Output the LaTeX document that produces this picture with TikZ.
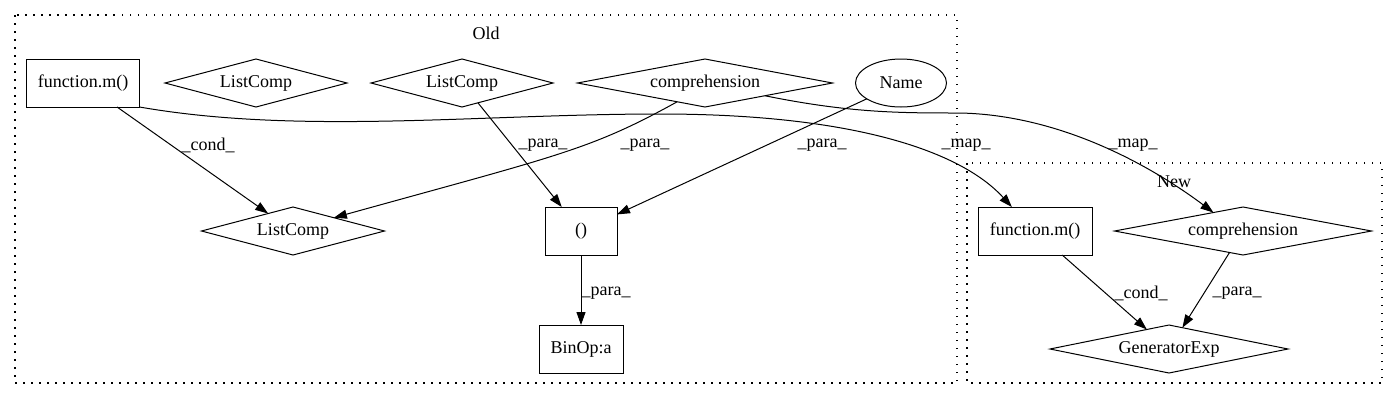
\documentclass[tikz,border=0pt]{standalone}
\usepackage{fontspec}
\setmainfont{Liberation Serif}
\usetikzlibrary{shapes.geometric}
\usetikzlibrary{arrows.meta}
\tikzset{box/.style={draw, rectangle, minimum height=48pt, inner sep=0pt, outer sep=0pt, line width=1pt},
 dia/.style={draw, diamond, aspect=5, minimum height=48pt, inner sep=0pt, outer sep=0pt, line width=1pt},
 oval/.style={draw, ellipse, minimum width=91pt, minimum height=48pt, inner sep=0pt, outer sep=0pt, line width=1pt},
 elabel/.style={inner sep=0pt},
 cluster/.style={line width=1.5pt, dash pattern=on 1.5pt off 6.5pt},
 flow/.style={draw, line width=1pt, -{Triangle[length=13pt,width=9pt]}},
 }

\begin{document}
\begin{tikzpicture}[x=1pt, y=-1pt, font=\fontsize{18}{22}\selectfont]
        \useasboundingbox (0,0) rectangle (1397,400);
        \draw[cluster] (15,15) rectangle (957,383);
        \draw[cluster] (967,163) rectangle (1382,383);
        \node (old) at (486,33) {Old};
        \node (new) at (1174,182) {New};

        \node[box, minimum width=113pt] (fmo) at (83,83) {function.m()};
        \node[dia, minimum width=182pt] (lca) at (256,83) {ListComp};
        \node[dia, minimum width=182pt] (lcb) at (462,83) {ListComp};
        \node[dia, minimum width=255pt] (cmo) at (705,83) {comprehension};
        \node[oval] (nam) at (901,83) {Name};
        \node[dia, minimum width=183pt] (lct) at (293,231) {ListComp};
        \node[box, minimum width=72pt] (par) at (581,231) {()};
        \node[box, minimum width=84pt] (bin) at (581,349) {BinOp:a};

        \node[box, minimum width=114pt] (fmn) at (1035,231) {function.m()};
        \node[dia, minimum width=257pt] (cmn) at (1243,231) {comprehension};
        \node[dia, minimum width=238pt] (gen) at (1169,349) {GeneratorExp};

        \draw[flow] (fmo) -- (lct);
        \draw[flow] (cmo.-146) .. controls (590,150) and (560,155) .. (lct.18);
        \draw[flow] (lcb) -- (par);
        \draw[flow] (nam) -- (par);
        \draw[flow] (par) -- (bin);
        \draw[flow] (fmo.south east) .. controls (300,135) and (480,114) .. (660,114)
            .. controls (850,114) and (960,150) .. (fmn.134);
        \draw[flow] (cmo.-12) .. controls (850,113) and (900,113) .. (960,113)
            .. controls (1060,115) and (1150,165) .. (cmn.148);
        \draw[flow] (fmn) -- (gen);
        \draw[flow] (cmn) -- (gen);

        \foreach \x/\y/\t [count=\i] in {208/145/\_cond\_, 543/145/\_para\_, 645/145/\_para\_,
            822/145/\_para\_, 966/145/\_map\_, 1133/145/\_map\_, 606/293/\_para\_,
            1141/293/\_cond\_, 1237/293/\_para\_} {
            \node[elabel] (lab\i) at (\x,\y) {\t};
        }
\end{tikzpicture}
\end{document}
